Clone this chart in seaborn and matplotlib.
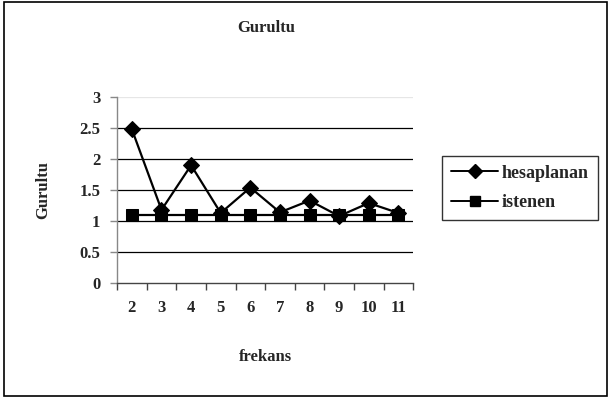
import matplotlib
matplotlib.use("Agg")
import matplotlib.pyplot as plt
import seaborn as sns
import pandas as pd
from matplotlib.patches import Rectangle
from matplotlib.lines import Line2D

frekans = [2, 3, 4, 5, 6, 7, 8, 9, 10, 11]
hesaplanan = [2.48, 1.18, 1.90, 1.13, 1.54, 1.14, 1.33, 1.08, 1.29, 1.13]
istenen = [1.1, 1.1, 1.1, 1.1, 1.1, 1.1, 1.1, 1.1, 1.1, 1.1]
y_ticks = [0, 0.5, 1, 1.5, 2, 2.5, 3]

sns.set_theme(style="white")
plt.rcParams["font.family"] = ["Liberation Serif", "DejaVu Serif"]
plt.rcParams["font.weight"] = "bold"

df = pd.DataFrame({"frekans": frekans * 2,
                   "deger": hesaplanan + istenen,
                   "seri": ["hesaplanan"] * len(frekans) + ["istenen"] * len(frekans)})

fig = plt.figure(figsize=(6.13, 3.98), dpi=100)
ax = fig.add_axes([0.191, 0.289, 0.483, 0.467])

# outer chart border
fig.patches.append(Rectangle((0.006, 0.006), 0.984, 0.988, transform=fig.transFigure,
                             fill=False, edgecolor="black", linewidth=1.2))

# horizontal gridlines
for v in y_ticks[1:-1]:
    ax.axhline(v, color="black", linewidth=0.9, zorder=1)
ax.axhline(3, color="#e6e6e6", linewidth=0.9, zorder=1)

sns.lineplot(data=df, x="frekans", y="deger", hue="seri", style="seri",
             markers={"hesaplanan": "D", "istenen": "s"}, dashes=False,
             palette={"hesaplanan": "black", "istenen": "black"},
             markersize=8.5, linewidth=1.6, markeredgecolor="black",
             legend=False, ax=ax, zorder=3)

ax.set_xlim(1.5, 11.5)
ax.set_ylim(0, 3)
ax.set_xticks(frekans)
ax.set_xticklabels([str(f) for f in frekans], fontsize=12, fontweight="bold")
ax.set_xticks([x + 0.5 for x in range(1, 12)], minor=True)
ax.set_yticks(y_ticks)
ax.set_yticklabels(["0", "0.5", "1", "1.5", "2", "2.5", "3"], fontsize=12, fontweight="bold")
ax.tick_params(axis="x", which="major", length=0, pad=12)
ax.tick_params(axis="x", which="minor", length=5, width=1, color="#444444", direction="out", bottom=True)
ax.tick_params(axis="y", length=5, width=1, color="#888888", direction="out", left=True, pad=7)

for side in ["top", "right"]:
    ax.spines[side].set_visible(False)
ax.spines["left"].set_color("#888888")
ax.spines["bottom"].set_color("#444444")
ax.spines["left"].set_linewidth(1)
ax.spines["bottom"].set_linewidth(1)

ax.set_xlabel("frekans", fontsize=12, fontweight="bold", labelpad=24)
ax.set_ylabel("Gurultu", fontsize=12, fontweight="bold", labelpad=20)
fig.text(0.434, 0.93, "Gurultu", ha="center", va="center", fontsize=12, fontweight="bold")

handles = [Line2D([], [], color="black", marker="D", markersize=7.5, linewidth=1.4),
           Line2D([], [], color="black", marker="s", markersize=7.5, linewidth=1.4)]
leg = fig.legend(handles, ["hesaplanan", "istenen"], loc="center",
                 bbox_to_anchor=(0.848, 0.528), frameon=True, fancybox=False,
                 edgecolor="black", fontsize=13, handlelength=2.6, borderpad=0.5,
                 labelspacing=0.7, handletextpad=0.2, borderaxespad=0)
leg.get_frame().set_linewidth(1)
for t in leg.get_texts():
    t.set_fontweight("bold")

fig.savefig("out.png", dpi=100)
